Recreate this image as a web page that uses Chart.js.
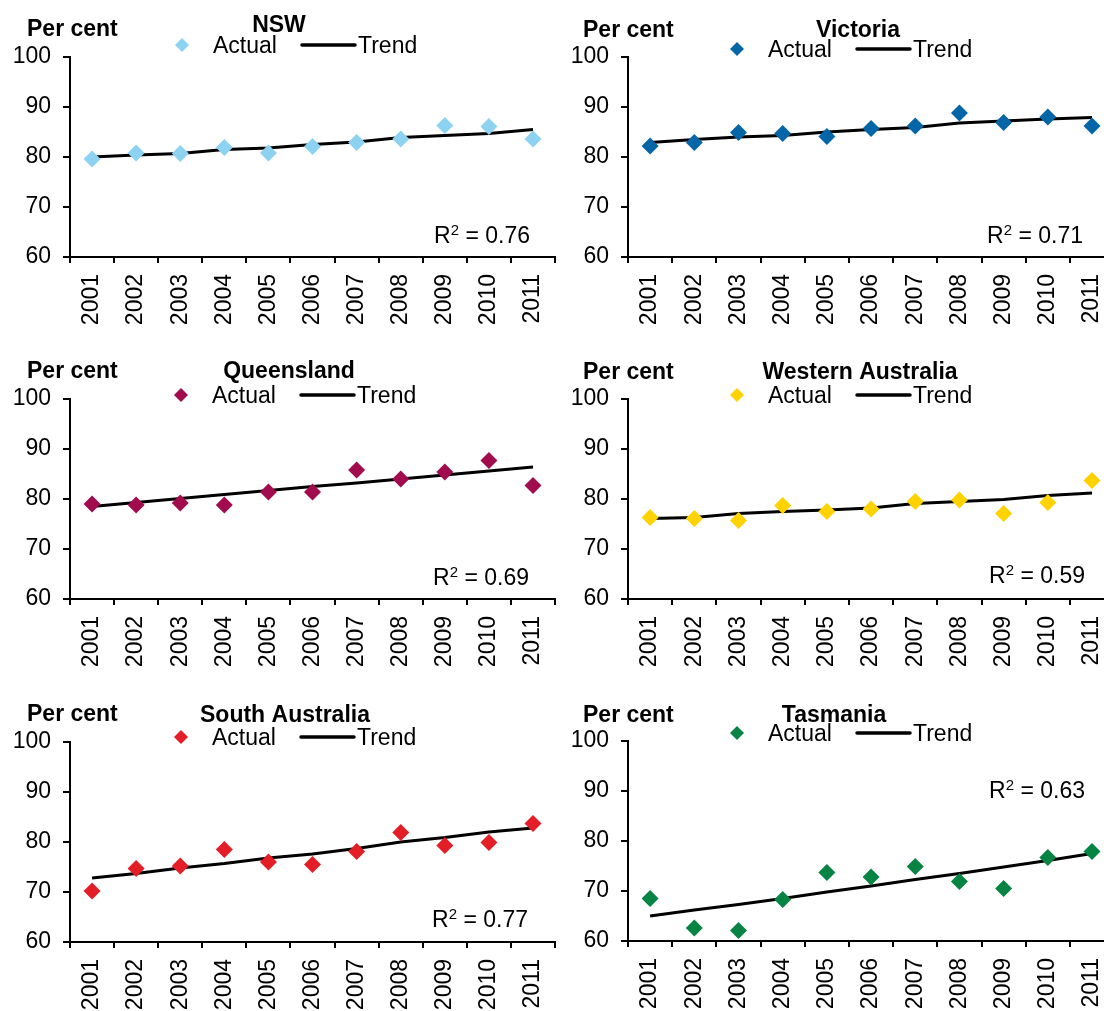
<!DOCTYPE html>
<html>
<head>
<meta charset="utf-8">
<script src="https://cdn.jsdelivr.net/npm/chart.js@4.4.1/dist/chart.umd.min.js"></script>
<style>
  html, body { margin: 0; padding: 0; background: #fff; }
  body { position: relative; width: 1104px; height: 1011px; overflow: hidden; }
  canvas { position: absolute; }
</style>
</head>
<body>
<canvas id="nsw"></canvas>
<canvas id="vic"></canvas>
<canvas id="qld"></canvas>
<canvas id="wa"></canvas>
<canvas id="sa"></canvas>
<canvas id="tas"></canvas>
<script>
// Data
const years = ['2001', '2002', '2003', '2004', '2005', '2006', '2007', '2008', '2009', '2010', '2011'];
const yTicks = [60, 70, 80, 90, 100];

const nswActual = [79.6, 80.8, 80.7, 81.9, 80.8, 82.1, 82.9, 83.6, 86.3, 86.1, 83.6];
const nswTrend  = [80.0, 80.4, 80.7, 81.5, 81.8, 82.5, 83.0, 83.9, 84.3, 84.7, 85.5];
const vicActual = [82.2, 82.9, 84.9, 84.7, 84.1, 85.7, 86.2, 88.8, 86.9, 88.0, 86.2];
const vicTrend  = [82.9, 83.5, 84.0, 84.3, 85.0, 85.5, 85.9, 86.8, 87.2, 87.6, 87.9];
const qldActual = [79.0, 78.8, 79.2, 78.8, 81.4, 81.4, 85.8, 84.0, 85.4, 87.7, 82.7];
const qldTrend  = [78.5, 79.3, 80.1, 80.9, 81.7, 82.5, 83.2, 84.0, 84.8, 85.6, 86.4];
const waActual  = [76.3, 76.1, 75.7, 78.7, 77.5, 78.0, 79.5, 79.8, 77.1, 79.3, 83.7];
const waTrend   = [76.1, 76.3, 77.1, 77.5, 77.8, 78.2, 79.1, 79.5, 79.9, 80.7, 81.2];
const saActual  = [70.2, 74.7, 75.2, 78.5, 76.0, 75.5, 78.1, 81.9, 79.3, 79.9, 83.7];
const saTrend   = [72.8, 73.7, 74.8, 75.7, 76.8, 77.6, 78.7, 80.0, 80.9, 82.0, 82.8];
const tasActual = [68.5, 62.6, 62.1, 68.3, 73.7, 72.8, 74.9, 71.9, 70.5, 76.7, 77.9];
const tasTrend  = [65.0, 66.2, 67.3, 68.5, 69.8, 71.0, 72.3, 73.5, 74.8, 76.1, 77.5];

const regions = ['NSW', 'Victoria', 'Queensland', 'Western Australia', 'South Australia', 'Tasmania'];
const r2Values = ['0.76', '0.71', '0.69', '0.59', '0.77', '0.63'];

const FONT = '"Liberation Sans", Arial, sans-serif';
const FS = 23;

// Placement of each panel (canvas box, plot margins, header text spots)
const panels = [
  { id: 'nsw', actual: nswActual, trend: nswTrend, color: '#8ED2F2',
    box: [0, 0, 572, 340], padTop: 57, xAxisH: 83, yAxisW: 70,
    perCent: [27, 36], title: [279, 32], legend: [182, 45], r2: [530, 243] },
  { id: 'vic', actual: vicActual, trend: vicTrend, color: '#0466A6',
    box: [550, 0, 581, 340], padTop: 57, xAxisH: 83, yAxisW: 78,
    perCent: [33, 37], title: [308, 37], legend: [187, 49], r2: [533, 243] },
  { id: 'qld', actual: qldActual, trend: qldTrend, color: '#A00C4E',
    box: [0, 340, 572, 340], padTop: 59, xAxisH: 81, yAxisW: 70,
    perCent: [27, 38], title: [289, 38], legend: [181, 55], r2: [529, 245] },
  { id: 'wa', actual: waActual, trend: waTrend, color: '#FFD200',
    box: [550, 340, 581, 340], padTop: 59, xAxisH: 81, yAxisW: 78,
    perCent: [33, 39], title: [310, 39], legend: [187, 55], r2: [535, 243] },
  { id: 'sa', actual: saActual, trend: saTrend, color: '#E31E26',
    box: [0, 680, 572, 331], padTop: 62, xAxisH: 69, yAxisW: 70,
    perCent: [27, 41], title: [285, 42], legend: [181, 57], r2: [528, 247] },
  { id: 'tas', actual: tasActual, trend: tasTrend, color: '#078443',
    box: [550, 680, 581, 331], padTop: 61, xAxisH: 70, yAxisW: 78,
    perCent: [33, 42], title: [284, 42], legend: [187, 53], r2: [535, 118] }
];

// Header texts, legend and R² note drawn on top of the chart
const panelText = {
  id: 'panelText',
  afterDraw(chart, args, o) {
    const ctx = chart.ctx;
    ctx.save();
    ctx.fillStyle = '#000';
    ctx.textBaseline = 'alphabetic';

    ctx.font = 'bold ' + FS + 'px ' + FONT;
    ctx.textAlign = 'left';
    ctx.fillText('Per cent', o.perCent[0], o.perCent[1]);
    ctx.textAlign = 'center';
    ctx.fillText(o.title, o.titlePos[0], o.titlePos[1]);

    // legend
    const lx = o.legend[0], ly = o.legend[1];
    ctx.fillStyle = o.color;
    ctx.beginPath();
    ctx.moveTo(lx, ly - 7);
    ctx.lineTo(lx + 7, ly);
    ctx.lineTo(lx, ly + 7);
    ctx.lineTo(lx - 7, ly);
    ctx.closePath();
    ctx.fill();
    ctx.fillStyle = '#000';
    ctx.font = FS + 'px ' + FONT;
    ctx.textAlign = 'left';
    ctx.fillText('Actual', lx + 31, ly + 8);
    ctx.strokeStyle = '#000';
    ctx.lineWidth = 3.5;
    ctx.lineCap = 'round';
    ctx.beginPath();
    ctx.moveTo(lx + 120, ly);
    ctx.lineTo(lx + 173, ly);
    ctx.stroke();
    ctx.fillText('Trend', lx + 176, ly + 8);

    // R² note, right aligned
    const big = FS + 'px ' + FONT, small = '15px ' + FONT;
    ctx.font = big;
    const wR = ctx.measureText('R').width;
    const wTail = ctx.measureText(' = ' + o.r2Text).width;
    ctx.font = small;
    const w2 = ctx.measureText('2').width;
    const x = o.r2[0] - (wR + w2 + wTail);
    ctx.font = big;
    ctx.fillText('R', x, o.r2[1]);
    ctx.font = small;
    ctx.fillText('2', x + wR, o.r2[1] - 8);
    ctx.font = big;
    ctx.fillText(' = ' + o.r2Text, x + wR + w2, o.r2[1]);
    ctx.restore();
  }
};

panels.forEach((p, i) => {
  const cv = document.getElementById(p.id);
  cv.width = p.box[2];
  cv.height = p.box[3];
  cv.style.left = p.box[0] + 'px';
  cv.style.top = p.box[1] + 'px';

  new Chart(cv.getContext('2d'), {
    type: 'line',
    data: {
      labels: years,
      datasets: [
        {
          label: 'Actual',
          data: p.actual,
          showLine: false,
          pointStyle: 'rectRot',
          pointRadius: 8.5,
          pointBackgroundColor: p.color,
          pointBorderColor: p.color,
          pointBorderWidth: 0
        },
        {
          label: 'Trend',
          data: p.trend,
          borderColor: '#000',
          borderWidth: 3,
          pointRadius: 0,
          tension: 0
        }
      ]
    },
    options: {
      responsive: false,
      animation: false,
      devicePixelRatio: 1,
      layout: { padding: { top: p.padTop, right: 0, left: 0, bottom: 0 } },
      plugins: {
        legend: { display: false },
        tooltip: { enabled: false },
        panelText: {
          title: regions[i], titlePos: p.title, perCent: p.perCent,
          legend: p.legend, color: p.color, r2: p.r2, r2Text: r2Values[i]
        }
      },
      scales: {
        x: {
          type: 'category',
          offset: true,
          grid: { offset: true, drawOnChartArea: false, drawTicks: true, tickLength: 6, color: '#000', lineWidth: 2 },
          border: { color: '#000', width: 2 },
          ticks: {
            color: '#000', font: { family: FONT, size: FS },
            minRotation: 90, maxRotation: 90, autoSkip: false, padding: 11
          },
          afterFit(s) { s.height = p.xAxisH; }
        },
        y: {
          min: 60, max: 100,
          afterBuildTicks(s) { s.ticks = yTicks.map(v => ({ value: v })); },
          grid: { drawOnChartArea: false, drawTicks: true, tickLength: 7, color: '#000', lineWidth: 2 },
          border: { color: '#000', width: 2 },
          ticks: { color: '#000', font: { family: FONT, size: FS }, padding: 12 },
          afterFit(s) { s.width = p.yAxisW; }
        }
      }
    },
    plugins: [panelText]
  });
});
</script>
</body>
</html>
